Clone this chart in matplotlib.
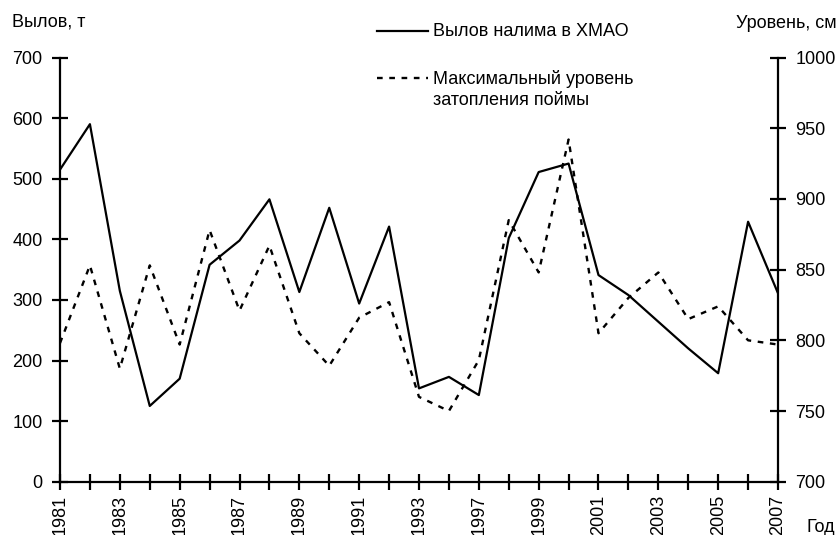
import matplotlib
matplotlib.use("Agg")
import matplotlib.pyplot as plt
from matplotlib.lines import Line2D

plt.rcParams['font.family'] = ['Liberation Sans', 'DejaVu Sans']

years = ['1981', '1982', '1983', '1984', '1985', '1986', '1987', '1988', '1989',
         '1990', '1991', '1992', '1993', '1995', '1997', '1998', '1999', '2000',
         '2001', '2002', '2003', '2004', '2005', '2006', '2007']
catch = [515, 590, 315, 125, 170, 358, 398, 466, 313, 452, 294, 421, 154,
         173, 143, 402, 511, 525, 341, 308, 264, 220, 179, 429, 311]
level = [798, 853, 780, 853, 797, 878, 821, 867, 805, 782, 816, 827, 760,
         750, 786, 885, 848, 942, 805, 830, 848, 815, 824, 800, 797]

catch_label = 'Вылов налима в ХМАО'
level_label = 'Максимальный уровень\nзатопления поймы'

fs = 13
dotted = (0, (2.4, 2.8))
x = list(range(len(years)))

fig = plt.figure(figsize=(8.38, 5.35), dpi=100)
ax = fig.add_axes([0.0716, 0.0996, 0.8568, 0.7929])
ax2 = ax.twinx()

ax.plot(x, catch, color='black', lw=1.6)
ax2.plot(x, level, color='black', lw=1.7, linestyle=dotted)

ax.set_xlim(0, len(years) - 1)
ax.set_ylim(0, 700)
ax2.set_ylim(700, 1000)
ax.set_yticks(range(0, 701, 100))
ax2.set_yticks(range(700, 1001, 50))
ax.set_xticks(x)
ax.set_xticklabels([y if i % 2 == 0 else '' for i, y in enumerate(years)], rotation=90)

for a in (ax, ax2):
    for s in a.spines.values():
        s.set_visible(False)
    a.tick_params(direction='inout', length=11, width=1.6, labelsize=fs, pad=7)
ax.spines['left'].set_visible(True)
ax.spines['bottom'].set_visible(True)
ax2.spines['right'].set_visible(True)
for s in (ax.spines['left'], ax.spines['bottom'], ax2.spines['right']):
    s.set_linewidth(1.6)
ax.tick_params(axis='x', pad=4)

fig.text(12 / 838, 1 - 22 / 535, 'Вылов, т', fontsize=fs, va='center', ha='left')
fig.text(837 / 838, 1 - 23 / 535, 'Уровень, см', fontsize=fs, va='center', ha='right')
fig.text(806 / 838, 1 - 527 / 535, 'Год', fontsize=fs, va='center', ha='left')

# legend
fig.add_artist(Line2D([377 / 838, 428 / 838], [1 - 31 / 535] * 2, color='black', lw=1.6))
fig.text(433 / 838, 1 - 31 / 535, catch_label, fontsize=fs, va='center', ha='left')
fig.add_artist(Line2D([377 / 838, 428 / 838], [1 - 78 / 535] * 2, color='black', lw=1.7,
                      linestyle=dotted))
fig.text(433 / 838, 1 - 70 / 535, level_label, fontsize=fs, va='top', ha='left',
         linespacing=1.3)

fig.savefig('out.png', dpi=100)
